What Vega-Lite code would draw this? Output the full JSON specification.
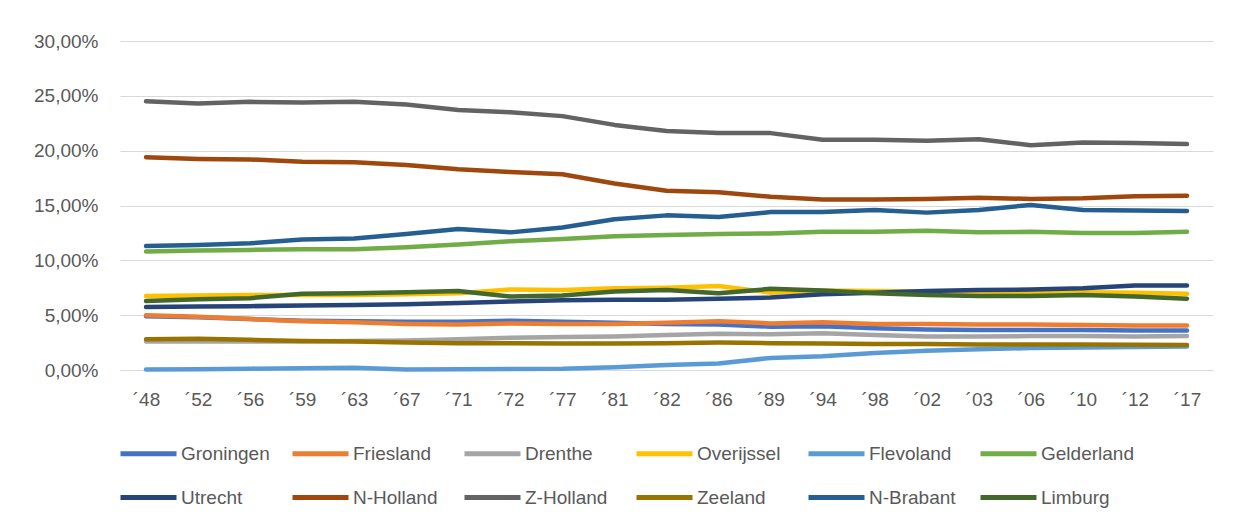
{
  "$schema": "https://vega.github.io/schema/vega-lite/v6.json",
  "width": 1093,
  "height": 329,
  "autosize": {"type": "none"},
  "padding": {"left": 120, "top": 41, "right": 36, "bottom": 157},
  "background": "white",
  "config": {
    "locale": {"number": {"decimal": ",", "thousands": ".", "grouping": [3], "currency": ["", " €"]}},
    "view": {"stroke": null},
    "font": "Liberation Sans"
  },
  "datasets": {
    "d": [
      {"j":"´48","p":"Groningen","v":0.049},{"j":"´52","p":"Groningen","v":0.048},{"j":"´56","p":"Groningen","v":0.0465},{"j":"´59","p":"Groningen","v":0.045},{"j":"´63","p":"Groningen","v":0.0445},{"j":"´67","p":"Groningen","v":0.044},{"j":"´71","p":"Groningen","v":0.044},{"j":"´72","p":"Groningen","v":0.045},{"j":"´77","p":"Groningen","v":0.044},{"j":"´81","p":"Groningen","v":0.043},{"j":"´82","p":"Groningen","v":0.042},{"j":"´86","p":"Groningen","v":0.0415},{"j":"´89","p":"Groningen","v":0.0395},{"j":"´94","p":"Groningen","v":0.04},{"j":"´98","p":"Groningen","v":0.038},{"j":"´02","p":"Groningen","v":0.037},{"j":"´03","p":"Groningen","v":0.0365},{"j":"´06","p":"Groningen","v":0.0365},{"j":"´10","p":"Groningen","v":0.0365},{"j":"´12","p":"Groningen","v":0.036},{"j":"´17","p":"Groningen","v":0.036},
      {"j":"´48","p":"Friesland","v":0.05},{"j":"´52","p":"Friesland","v":0.0485},{"j":"´56","p":"Friesland","v":0.0465},{"j":"´59","p":"Friesland","v":0.0445},{"j":"´63","p":"Friesland","v":0.0435},{"j":"´67","p":"Friesland","v":0.042},{"j":"´71","p":"Friesland","v":0.0415},{"j":"´72","p":"Friesland","v":0.0425},{"j":"´77","p":"Friesland","v":0.042},{"j":"´81","p":"Friesland","v":0.042},{"j":"´82","p":"Friesland","v":0.043},{"j":"´86","p":"Friesland","v":0.0445},{"j":"´89","p":"Friesland","v":0.0425},{"j":"´94","p":"Friesland","v":0.0435},{"j":"´98","p":"Friesland","v":0.042},{"j":"´02","p":"Friesland","v":0.042},{"j":"´03","p":"Friesland","v":0.0415},{"j":"´06","p":"Friesland","v":0.0415},{"j":"´10","p":"Friesland","v":0.041},{"j":"´12","p":"Friesland","v":0.0405},{"j":"´17","p":"Friesland","v":0.0405},
      {"j":"´48","p":"Drenthe","v":0.026},{"j":"´52","p":"Drenthe","v":0.026},{"j":"´56","p":"Drenthe","v":0.026},{"j":"´59","p":"Drenthe","v":0.026},{"j":"´63","p":"Drenthe","v":0.0265},{"j":"´67","p":"Drenthe","v":0.027},{"j":"´71","p":"Drenthe","v":0.028},{"j":"´72","p":"Drenthe","v":0.0295},{"j":"´77","p":"Drenthe","v":0.03},{"j":"´81","p":"Drenthe","v":0.0305},{"j":"´82","p":"Drenthe","v":0.032},{"j":"´86","p":"Drenthe","v":0.033},{"j":"´89","p":"Drenthe","v":0.0325},{"j":"´94","p":"Drenthe","v":0.0335},{"j":"´98","p":"Drenthe","v":0.032},{"j":"´02","p":"Drenthe","v":0.0305},{"j":"´03","p":"Drenthe","v":0.0305},{"j":"´06","p":"Drenthe","v":0.031},{"j":"´10","p":"Drenthe","v":0.031},{"j":"´12","p":"Drenthe","v":0.0305},{"j":"´17","p":"Drenthe","v":0.031},
      {"j":"´48","p":"Overijssel","v":0.0675},{"j":"´52","p":"Overijssel","v":0.068},{"j":"´56","p":"Overijssel","v":0.0685},{"j":"´59","p":"Overijssel","v":0.0685},{"j":"´63","p":"Overijssel","v":0.0685},{"j":"´67","p":"Overijssel","v":0.069},{"j":"´71","p":"Overijssel","v":0.07},{"j":"´72","p":"Overijssel","v":0.0735},{"j":"´77","p":"Overijssel","v":0.073},{"j":"´81","p":"Overijssel","v":0.0745},{"j":"´82","p":"Overijssel","v":0.075},{"j":"´86","p":"Overijssel","v":0.0765},{"j":"´89","p":"Overijssel","v":0.0705},{"j":"´94","p":"Overijssel","v":0.0725},{"j":"´98","p":"Overijssel","v":0.072},{"j":"´02","p":"Overijssel","v":0.0715},{"j":"´03","p":"Overijssel","v":0.0715},{"j":"´06","p":"Overijssel","v":0.071},{"j":"´10","p":"Overijssel","v":0.071},{"j":"´12","p":"Overijssel","v":0.0705},{"j":"´17","p":"Overijssel","v":0.0695},
      {"j":"´48","p":"Flevoland","v":0.0005},{"j":"´52","p":"Flevoland","v":0.0007},{"j":"´56","p":"Flevoland","v":0.0012},{"j":"´59","p":"Flevoland","v":0.0017},{"j":"´63","p":"Flevoland","v":0.002},{"j":"´67","p":"Flevoland","v":0.0005},{"j":"´71","p":"Flevoland","v":0.0007},{"j":"´72","p":"Flevoland","v":0.001},{"j":"´77","p":"Flevoland","v":0.0012},{"j":"´81","p":"Flevoland","v":0.0025},{"j":"´82","p":"Flevoland","v":0.0045},{"j":"´86","p":"Flevoland","v":0.006},{"j":"´89","p":"Flevoland","v":0.011},{"j":"´94","p":"Flevoland","v":0.0125},{"j":"´98","p":"Flevoland","v":0.0155},{"j":"´02","p":"Flevoland","v":0.0175},{"j":"´03","p":"Flevoland","v":0.019},{"j":"´06","p":"Flevoland","v":0.02},{"j":"´10","p":"Flevoland","v":0.0205},{"j":"´12","p":"Flevoland","v":0.021},{"j":"´17","p":"Flevoland","v":0.0215},
      {"j":"´48","p":"Gelderland","v":0.108},{"j":"´52","p":"Gelderland","v":0.109},{"j":"´56","p":"Gelderland","v":0.1095},{"j":"´59","p":"Gelderland","v":0.11},{"j":"´63","p":"Gelderland","v":0.11},{"j":"´67","p":"Gelderland","v":0.112},{"j":"´71","p":"Gelderland","v":0.1145},{"j":"´72","p":"Gelderland","v":0.1175},{"j":"´77","p":"Gelderland","v":0.1195},{"j":"´81","p":"Gelderland","v":0.122},{"j":"´82","p":"Gelderland","v":0.123},{"j":"´86","p":"Gelderland","v":0.124},{"j":"´89","p":"Gelderland","v":0.1245},{"j":"´94","p":"Gelderland","v":0.126},{"j":"´98","p":"Gelderland","v":0.126},{"j":"´02","p":"Gelderland","v":0.127},{"j":"´03","p":"Gelderland","v":0.1255},{"j":"´06","p":"Gelderland","v":0.126},{"j":"´10","p":"Gelderland","v":0.125},{"j":"´12","p":"Gelderland","v":0.125},{"j":"´17","p":"Gelderland","v":0.126},
      {"j":"´48","p":"Utrecht","v":0.0575},{"j":"´52","p":"Utrecht","v":0.058},{"j":"´56","p":"Utrecht","v":0.0582},{"j":"´59","p":"Utrecht","v":0.0588},{"j":"´63","p":"Utrecht","v":0.0592},{"j":"´67","p":"Utrecht","v":0.06},{"j":"´71","p":"Utrecht","v":0.061},{"j":"´72","p":"Utrecht","v":0.0625},{"j":"´77","p":"Utrecht","v":0.0635},{"j":"´81","p":"Utrecht","v":0.064},{"j":"´82","p":"Utrecht","v":0.064},{"j":"´86","p":"Utrecht","v":0.065},{"j":"´89","p":"Utrecht","v":0.066},{"j":"´94","p":"Utrecht","v":0.069},{"j":"´98","p":"Utrecht","v":0.0705},{"j":"´02","p":"Utrecht","v":0.072},{"j":"´03","p":"Utrecht","v":0.073},{"j":"´06","p":"Utrecht","v":0.0733},{"j":"´10","p":"Utrecht","v":0.0745},{"j":"´12","p":"Utrecht","v":0.077},{"j":"´17","p":"Utrecht","v":0.077},
      {"j":"´48","p":"N-Holland","v":0.194},{"j":"´52","p":"N-Holland","v":0.1925},{"j":"´56","p":"N-Holland","v":0.192},{"j":"´59","p":"N-Holland","v":0.19},{"j":"´63","p":"N-Holland","v":0.1895},{"j":"´67","p":"N-Holland","v":0.187},{"j":"´71","p":"N-Holland","v":0.183},{"j":"´72","p":"N-Holland","v":0.1805},{"j":"´77","p":"N-Holland","v":0.1785},{"j":"´81","p":"N-Holland","v":0.17},{"j":"´82","p":"N-Holland","v":0.1635},{"j":"´86","p":"N-Holland","v":0.162},{"j":"´89","p":"N-Holland","v":0.158},{"j":"´94","p":"N-Holland","v":0.1555},{"j":"´98","p":"N-Holland","v":0.1555},{"j":"´02","p":"N-Holland","v":0.156},{"j":"´03","p":"N-Holland","v":0.157},{"j":"´06","p":"N-Holland","v":0.156},{"j":"´10","p":"N-Holland","v":0.1565},{"j":"´12","p":"N-Holland","v":0.1585},{"j":"´17","p":"N-Holland","v":0.159},
      {"j":"´48","p":"Z-Holland","v":0.245},{"j":"´52","p":"Z-Holland","v":0.243},{"j":"´56","p":"Z-Holland","v":0.2445},{"j":"´59","p":"Z-Holland","v":0.244},{"j":"´63","p":"Z-Holland","v":0.2445},{"j":"´67","p":"Z-Holland","v":0.242},{"j":"´71","p":"Z-Holland","v":0.237},{"j":"´72","p":"Z-Holland","v":0.235},{"j":"´77","p":"Z-Holland","v":0.2315},{"j":"´81","p":"Z-Holland","v":0.2235},{"j":"´82","p":"Z-Holland","v":0.218},{"j":"´86","p":"Z-Holland","v":0.216},{"j":"´89","p":"Z-Holland","v":0.216},{"j":"´94","p":"Z-Holland","v":0.21},{"j":"´98","p":"Z-Holland","v":0.21},{"j":"´02","p":"Z-Holland","v":0.209},{"j":"´03","p":"Z-Holland","v":0.2105},{"j":"´06","p":"Z-Holland","v":0.205},{"j":"´10","p":"Z-Holland","v":0.2075},{"j":"´12","p":"Z-Holland","v":0.207},{"j":"´17","p":"Z-Holland","v":0.206},
      {"j":"´48","p":"Zeeland","v":0.028},{"j":"´52","p":"Zeeland","v":0.0285},{"j":"´56","p":"Zeeland","v":0.0275},{"j":"´59","p":"Zeeland","v":0.0265},{"j":"´63","p":"Zeeland","v":0.026},{"j":"´67","p":"Zeeland","v":0.025},{"j":"´71","p":"Zeeland","v":0.0245},{"j":"´72","p":"Zeeland","v":0.0245},{"j":"´77","p":"Zeeland","v":0.0242},{"j":"´81","p":"Zeeland","v":0.0242},{"j":"´82","p":"Zeeland","v":0.0245},{"j":"´86","p":"Zeeland","v":0.025},{"j":"´89","p":"Zeeland","v":0.0245},{"j":"´94","p":"Zeeland","v":0.0242},{"j":"´98","p":"Zeeland","v":0.0238},{"j":"´02","p":"Zeeland","v":0.0236},{"j":"´03","p":"Zeeland","v":0.0232},{"j":"´06","p":"Zeeland","v":0.0232},{"j":"´10","p":"Zeeland","v":0.0232},{"j":"´12","p":"Zeeland","v":0.023},{"j":"´17","p":"Zeeland","v":0.0228},
      {"j":"´48","p":"N-Brabant","v":0.113},{"j":"´52","p":"N-Brabant","v":0.114},{"j":"´56","p":"N-Brabant","v":0.1155},{"j":"´59","p":"N-Brabant","v":0.119},{"j":"´63","p":"N-Brabant","v":0.12},{"j":"´67","p":"N-Brabant","v":0.124},{"j":"´71","p":"N-Brabant","v":0.1285},{"j":"´72","p":"N-Brabant","v":0.1255},{"j":"´77","p":"N-Brabant","v":0.13},{"j":"´81","p":"N-Brabant","v":0.1375},{"j":"´82","p":"N-Brabant","v":0.141},{"j":"´86","p":"N-Brabant","v":0.1395},{"j":"´89","p":"N-Brabant","v":0.144},{"j":"´94","p":"N-Brabant","v":0.144},{"j":"´98","p":"N-Brabant","v":0.146},{"j":"´02","p":"N-Brabant","v":0.1435},{"j":"´03","p":"N-Brabant","v":0.146},{"j":"´06","p":"N-Brabant","v":0.1505},{"j":"´10","p":"N-Brabant","v":0.146},{"j":"´12","p":"N-Brabant","v":0.1455},{"j":"´17","p":"N-Brabant","v":0.145},
      {"j":"´48","p":"Limburg","v":0.063},{"j":"´52","p":"Limburg","v":0.0645},{"j":"´56","p":"Limburg","v":0.0655},{"j":"´59","p":"Limburg","v":0.0695},{"j":"´63","p":"Limburg","v":0.07},{"j":"´67","p":"Limburg","v":0.071},{"j":"´71","p":"Limburg","v":0.072},{"j":"´72","p":"Limburg","v":0.067},{"j":"´77","p":"Limburg","v":0.068},{"j":"´81","p":"Limburg","v":0.0715},{"j":"´82","p":"Limburg","v":0.073},{"j":"´86","p":"Limburg","v":0.07},{"j":"´89","p":"Limburg","v":0.074},{"j":"´94","p":"Limburg","v":0.0725},{"j":"´98","p":"Limburg","v":0.07},{"j":"´02","p":"Limburg","v":0.0685},{"j":"´03","p":"Limburg","v":0.0675},{"j":"´06","p":"Limburg","v":0.0675},{"j":"´10","p":"Limburg","v":0.0685},{"j":"´12","p":"Limburg","v":0.067},{"j":"´17","p":"Limburg","v":0.065}
    ]
  },
  "data": {"name": "d"},
  "mark": {"type": "line", "strokeWidth": 4.5, "strokeCap": "round", "strokeJoin": "round"},
  "encoding": {
    "x": {
      "field": "j", "type": "ordinal", "sort": null,
      "scale": {"type": "point", "padding": 0.5},
      "axis": {"title": null, "labelAngle": 0, "ticks": false, "domain": true, "domainColor": "#D9D9D9", "labelPadding": 20, "labelFontSize": 19, "labelColor": "#595959", "grid": false}
    },
    "y": {
      "field": "v", "type": "quantitative",
      "scale": {"domain": [0, 0.3], "nice": false},
      "axis": {"title": null, "format": ".2%", "values": [0, 0.05, 0.1, 0.15, 0.2, 0.25, 0.3], "ticks": false, "domain": false, "gridColor": "#D9D9D9", "gridWidth": 1, "labelPadding": 22, "labelFontSize": 19, "labelColor": "#595959"}
    },
    "color": {
      "field": "p", "type": "nominal",
      "scale": {
        "domain": ["Groningen", "Friesland", "Drenthe", "Overijssel", "Flevoland", "Gelderland", "Utrecht", "N-Holland", "Z-Holland", "Zeeland", "N-Brabant", "Limburg"],
        "range": ["#4472C4", "#ED7D31", "#A5A5A5", "#FFC000", "#5B9BD5", "#70AD47", "#264478", "#9E480E", "#636363", "#997300", "#255E91", "#43682B"]
      },
      "legend": {
        "title": null, "orient": "none", "legendX": -2, "legendY": 382, "direction": "horizontal", "columns": 6,
        "gridAlign": "all", "columnPadding": 8, "rowPadding": 3,
        "symbolType": "stroke", "symbolStrokeWidth": 5, "symbolSize": 3136,
        "labelFontSize": 19, "labelColor": "#595959", "labelOffset": 2, "labelLimit": 300
      }
    }
  }
}
